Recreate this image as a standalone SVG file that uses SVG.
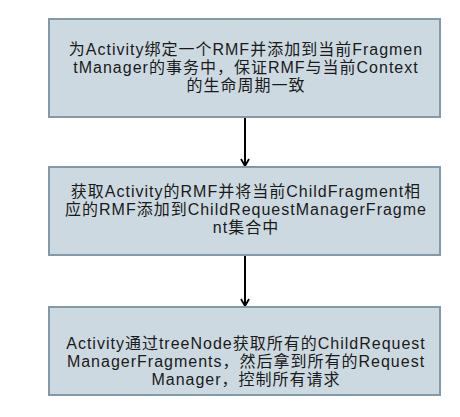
<svg xmlns="http://www.w3.org/2000/svg" width="460" height="417" viewBox="0 0 460 417">
<style>
.box{fill:#cdd9e1;stroke:#8399a7;stroke-width:2}
.t{font-family:"Liberation Sans","Noto Sans CJK SC",sans-serif;font-size:16px;letter-spacing:1px;fill:#1a1a1a;text-anchor:middle}
.c{stroke:#000;stroke-width:2;fill:none}
</style>
<defs>
<marker id="ah" markerWidth="10" markerHeight="10" refX="8" refY="5" orient="auto" markerUnits="userSpaceOnUse">
<path d="M1,1 L8,5 L1,9" fill="none" stroke="#000" stroke-width="1.8"/>
</marker>
</defs>
<rect width="460" height="417" fill="#fff"/>
<g id="connectors">
<line class="c" x1="245" y1="118" x2="245" y2="166" marker-end="url(#ah)"/>
<line class="c" x1="245" y1="256" x2="245" y2="306" marker-end="url(#ah)"/>
</g>
<g id="node1">
<rect class="box" x="49" y="19" width="391" height="98"/>
<text class="t" x="246" y="55">为Activity绑定一个RMF并添加到当前Fragmen</text>
<text class="t" x="246" y="73">tManager的事务中，保证RMF与当前Context</text>
<text class="t" x="246" y="91">的生命周期一致</text>
</g>
<g id="node2">
<rect class="box" x="49" y="167" width="391" height="88"/>
<text class="t" x="246" y="197">获取Activity的RMF并将当前ChildFragment相</text>
<text class="t" x="246" y="215">应的RMF添加到ChildRequestManagerFragme</text>
<text class="t" x="246" y="233">nt集合中</text>
</g>
<g id="node3">
<rect class="box" x="49" y="307" width="391" height="88"/>
<text class="t" x="246" y="349">Activity通过treeNode获取所有的ChildRequest</text>
<text class="t" x="246" y="367">ManagerFragments，然后拿到所有的Request</text>
<text class="t" x="246" y="385">Manager，控制所有请求</text>
</g>
</svg>
